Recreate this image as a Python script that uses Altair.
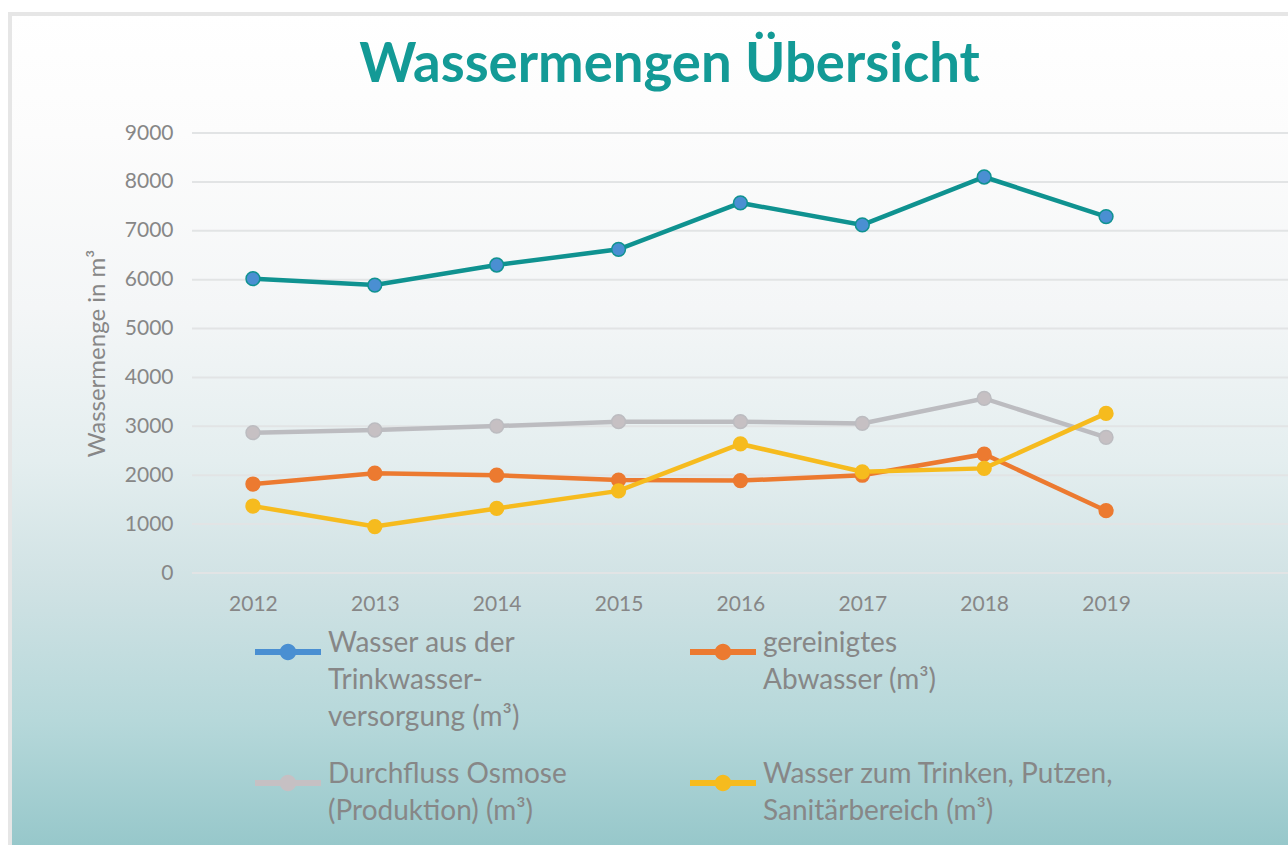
import altair as alt
import pandas as pd

# ---- data ----
years = ["2012", "2013", "2014", "2015", "2016", "2017", "2018", "2019"]
# legend order (column-major: col 1 = first two, col 2 = last two)
series_names = [
    "Wasser aus der\nTrinkwasser-\nversorgung (m³)",
    "Durchfluss Osmose\n(Produktion) (m³)",
    "gereinigtes\nAbwasser (m³)\n ",
    "Wasser zum Trinken, Putzen,\nSanitärbereich (m³)",
]
trinkwasser = [6020, 5890, 6300, 6620, 7570, 7120, 8100, 7290]
osmose = [2870, 2925, 3005, 3095, 3095, 3060, 3570, 2775]
abwasser = [1820, 2040, 2000, 1900, 1890, 2000, 2430, 1275]
sanitaer = [1370, 950, 1320, 1680, 2640, 2070, 2140, 3265]
y_ticks = [0, 1000, 2000, 3000, 4000, 5000, 6000, 7000, 8000, 9000]

line_colors = ["#0f9290", "#bcbcc0", "#ec7a30", "#f6bb1e"]
marker_colors = ["#4a8fd2", "#c6c0c3", "#ec7a30", "#f6bb1e"]

rows = []
for name, vals in zip(series_names, [trinkwasser, osmose, abwasser, sanitaer]):
    for yr, v in zip(years, vals):
        rows.append({"Jahr": yr, "Serie": name, "Wert": v})
df = pd.DataFrame(rows)
grid_df = pd.DataFrame({"Wert": y_ticks})
bg_df = pd.DataFrame({"k": [0]})

W, H = 975, 440
PAD = {"left": 192, "top": 133, "right": 121, "bottom": 272}
GRAY = "#878787"

y_scale = alt.Scale(domain=[0, 9000], nice=False, zero=True)
y_axis = alt.Axis(
    title="Wassermenge in m³", values=y_ticks, format="d", ticks=False,
    domain=False, grid=False, labelFontSize=21, labelColor=GRAY,
    labelFont="Lato", labelPadding=19, titleFontSize=24, titleFont="Lato",
    titleFontWeight="normal", titleColor=GRAY, titlePadding=15, zindex=1,
)
x_enc = alt.X(
    "Jahr:O",
    sort=years,
    scale=alt.Scale(type="point", padding=0.5),
    axis=alt.Axis(
        title=None, labelAngle=0, ticks=False, domain=False, grid=False,
        labelFontSize=21, labelColor=GRAY, labelFont="Lato",
        labelPadding=20, zindex=1,
    ),
)
y_enc = alt.Y("Wert:Q", scale=y_scale, axis=y_axis)

gradient = alt.LinearGradient(
    gradient="linear",
    stops=[
        alt.GradientStop(offset=0.0, color="#ffffff"),
        alt.GradientStop(offset=0.14, color="#fcfcfc"),
        alt.GradientStop(offset=0.345, color="#f4f6f7"),
        alt.GradientStop(offset=0.525, color="#e4eeef"),
        alt.GradientStop(offset=0.67, color="#d0e2e4"),
        alt.GradientStop(offset=0.83, color="#b6d8da"),
        alt.GradientStop(offset=1.0, color="#92c5c8"),
    ],
    x1=0, x2=0, y1=0, y2=1,
)

bg = alt.Chart(bg_df).mark_rect(
    fill=gradient, stroke="#e6e6e6", strokeWidth=4
).encode(
    x=alt.value(10 - PAD["left"]),
    x2=alt.value(W + PAD["right"] + 20),
    y=alt.value(14 - PAD["top"]),
    y2=alt.value(H + PAD["bottom"] + 20),
)

grid = alt.Chart(grid_df).mark_rule(color="#e2e4e5", strokeWidth=2).encode(
    y=y_enc,
    x=alt.value(0),
    x2=alt.value(W + PAD["right"]),
)

lines = alt.Chart(df).mark_line(strokeWidth=4.5).encode(
    x=x_enc,
    y=y_enc,
    stroke=alt.Stroke(
        "Serie:N",
        scale=alt.Scale(domain=series_names, range=line_colors),
        legend=None,
    ),
)

legend_symbol = (
    "M-1,-0.09H1V0.09H-1Z "
    "M0.25,0A0.25,0.25,0,1,1,-0.25,0A0.25,0.25,0,1,1,0.25,0Z"
)

points = alt.Chart(df).mark_point(filled=True, size=190, strokeWidth=1.5, opacity=1).encode(
    x=x_enc,
    y=y_enc,
    fill=alt.Fill(
        "Serie:N",
        scale=alt.Scale(domain=series_names, range=marker_colors),
        legend=alt.Legend(
            title=None, orient="none", legendX=63, legendY=486,
            columns=2, columnPadding=123, rowPadding=18,
            symbolType=legend_symbol, symbolSize=4356, symbolStrokeWidth=0,
            symbolOpacity=1,
            labelFontSize=28, labelFont="Lato", labelColor=GRAY,
            labelLimit=600, labelOffset=7, labelBaseline="alphabetic",
            labelExpr="split(datum.label, '\\n')",
        ),
    ),
    stroke=alt.Stroke(
        "Serie:N",
        scale=alt.Scale(domain=series_names, range=line_colors),
        legend=None,
    ),
)

chart = (
    alt.layer(bg, grid, lines, points)
    .resolve_scale(fill="independent", stroke="shared")
    .properties(
        width=W,
        height=H,
        padding=PAD,
        autosize=alt.AutoSizeParams(type="none"),
        title=alt.TitleParams(
            "Wassermengen Übersicht", font="Lato", fontSize=54.5, fontWeight="bold",
            color="#139a96", anchor="middle", frame="group", baseline="alphabetic",
            offset=-124, dx=-10, zindex=1,
        ),
        background="#ffffff",
    )
    .configure(style={"guide-label": {"lineHeight": 37}})
    .configure_view(stroke=None)
    .configure_axis(zindex=1)
    .configure_legend(zindex=1)
)

chart.save("out.html", embed_options={"renderer": "svg", "actions": False})
